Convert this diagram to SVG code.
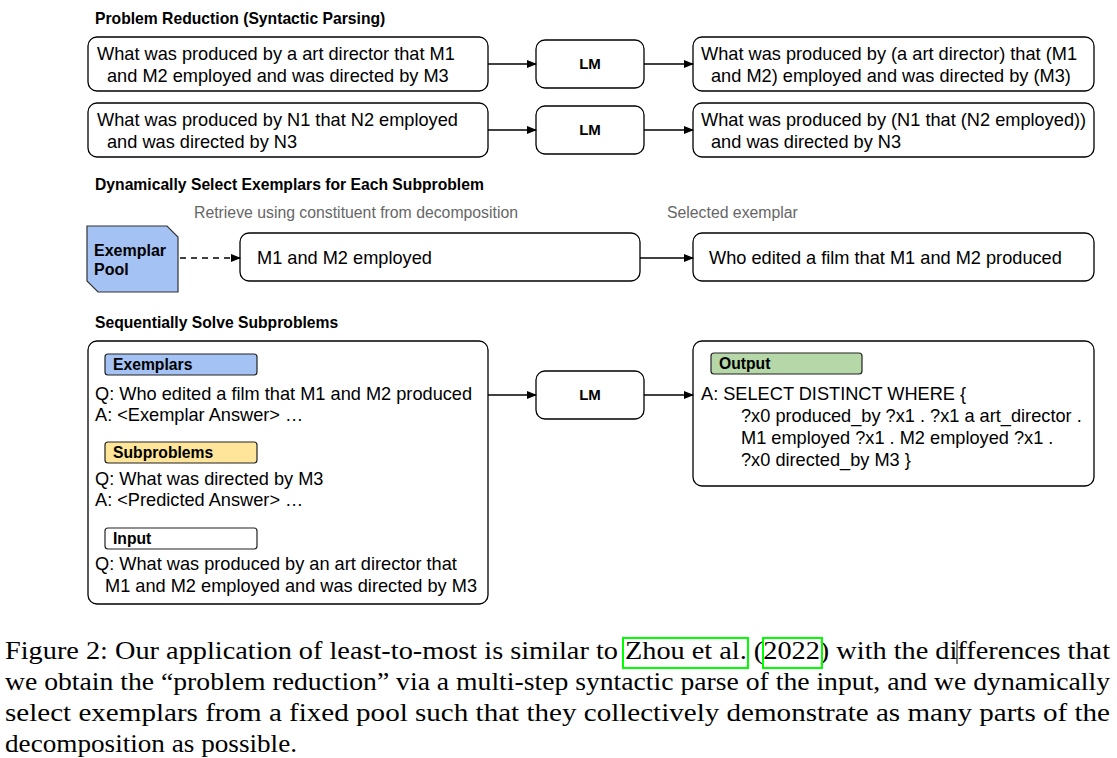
<svg xmlns="http://www.w3.org/2000/svg" width="1117" height="758" viewBox="0 0 1117 758">
<defs>
<marker id="ah" markerWidth="10" markerHeight="8" refX="9" refY="4" orient="auto" markerUnits="userSpaceOnUse">
<path d="M0,0 L10,4 L0,8 Z" fill="#000"/>
</marker>
<style>
.box{fill:#fff;stroke:#000;stroke-width:1.3}
.t{font-family:"Liberation Sans",Arial,sans-serif;font-size:18.2px;fill:#000}
.b{font-family:"Liberation Sans",Arial,sans-serif;font-size:15.7px;font-weight:bold;fill:#000}
.g{font-family:"Liberation Sans",Arial,sans-serif;font-size:15.8px;fill:#666}
.lm{font-family:"Liberation Sans",Arial,sans-serif;font-size:15px;font-weight:bold;fill:#000;text-anchor:middle}
.lab{stroke:#222;stroke-width:1.2}
.c{font-family:"Liberation Serif","Times New Roman",serif;font-size:26px;fill:#000}
.arr{stroke:#000;stroke-width:1.5;fill:none;marker-end:url(#ah)}
</style>
</defs>
<rect width="1117" height="758" fill="#fff"/>

<text class="b" x="95" y="24">Problem Reduction (Syntactic Parsing)</text>
<text class="b" x="95" y="190">Dynamically Select Exemplars for Each Subproblem</text>
<text class="b" x="95" y="328">Sequentially Solve Subproblems</text>

<g id="q1">
<rect class="box" x="88" y="37" width="400" height="54" rx="9"/>
<text class="t" x="97" y="60">What was produced by a art director that M1</text>
<text class="t" x="107" y="82">and M2 employed and was directed by M3</text>
</g>
<g id="lm1">
<rect class="box" x="536" y="40" width="108" height="48" rx="9"/>
<text class="lm" x="590" y="69">LM</text>
</g>
<g id="p1">
<rect class="box" x="693" y="37" width="401" height="54" rx="9"/>
<text class="t" x="701" y="60">What was produced by (a art director) that (M1</text>
<text class="t" x="711" y="82">and M2) employed and was directed by (M3)</text>
</g>

<g id="q2">
<rect class="box" x="88" y="103" width="400" height="54" rx="9"/>
<text class="t" x="97" y="126">What was produced by N1 that N2 employed</text>
<text class="t" x="107" y="148">and was directed by N3</text>
</g>
<g id="lm2">
<rect class="box" x="536" y="106" width="108" height="48" rx="9"/>
<text class="lm" x="590" y="135">LM</text>
</g>
<g id="p2">
<rect class="box" x="693" y="103" width="401" height="54" rx="9"/>
<text class="t" x="701" y="126">What was produced by (N1 that (N2 employed))</text>
<text class="t" x="711" y="148">and was directed by N3</text>
</g>

<text class="g" x="194" y="218">Retrieve using constituent from decomposition</text>
<text class="g" x="667" y="218">Selected exemplar</text>

<g id="pool">
<path d="M87,226 L167,226 L178,237 L178,292 L98,292 L87,281 Z" fill="#a4c2f4" stroke="#333" stroke-width="1.2"/>
<text class="b" x="94" y="256" style="font-size:16px">Exemplar</text>
<text class="b" x="94" y="275" style="font-size:16px">Pool</text>
</g>
<g id="constituent">
<rect class="box" x="240" y="233" width="400" height="48" rx="9"/>
<text class="t" x="257" y="264">M1 and M2 employed</text>
</g>
<g id="selected">
<rect class="box" x="693" y="233" width="401" height="48" rx="9"/>
<text class="t" x="709" y="264">Who edited a film that M1 and M2 produced</text>
</g>

<g id="prompt">
<rect class="box" x="88" y="341" width="400" height="263" rx="9"/>
<rect class="lab" x="105" y="354" width="152" height="21" rx="3" fill="#a4c2f4"/>
<text class="b" x="113" y="370">Exemplars</text>
<text class="t" x="95" y="400">Q: Who edited a film that M1 and M2 produced</text>
<text class="t" x="95" y="421">A: &lt;Exemplar Answer&gt; …</text>
<rect class="lab" x="105" y="442" width="152" height="21" rx="3" fill="#ffe599"/>
<text class="b" x="113" y="458">Subproblems</text>
<text class="t" x="95" y="485">Q: What was directed by M3</text>
<text class="t" x="95" y="506">A: &lt;Predicted Answer&gt; …</text>
<rect class="lab" x="105" y="528" width="152" height="21" rx="3" fill="#fff"/>
<text class="b" x="113" y="544">Input</text>
<text class="t" x="95" y="570">Q: What was produced by an art director that</text>
<text class="t" x="105" y="592">M1 and M2 employed and was directed by M3</text>
</g>
<g id="lm3">
<rect class="box" x="536" y="371" width="108" height="48" rx="9"/>
<text class="lm" x="590" y="400">LM</text>
</g>
<g id="output">
<rect class="box" x="693" y="341" width="401" height="145" rx="9"/>
<rect class="lab" x="711" y="353" width="151" height="21" rx="3" fill="#b6d7a8"/>
<text class="b" x="719" y="369">Output</text>
<text class="t" x="701" y="400">A: SELECT DISTINCT WHERE {</text>
<text class="t" x="741" y="422">?x0 produced_by ?x1 . ?x1 a art_director .</text>
<text class="t" x="741" y="444">M1 employed ?x1 . M2 employed ?x1 .</text>
<text class="t" x="741" y="466">?x0 directed_by M3 }</text>
</g>

<g id="connectors">
<line class="arr" x1="488" y1="64" x2="536" y2="64"/>
<line class="arr" x1="644" y1="64" x2="693" y2="64"/>
<line class="arr" x1="488" y1="130" x2="536" y2="130"/>
<line class="arr" x1="644" y1="130" x2="693" y2="130"/>
<line class="arr" x1="180" y1="258" x2="240" y2="258" stroke-dasharray="6,5"/>
<line class="arr" x1="640" y1="258" x2="693" y2="258"/>
<line class="arr" x1="488" y1="395" x2="536" y2="395"/>
<line class="arr" x1="644" y1="395" x2="693" y2="395"/>
</g>

<g id="caption">
<text class="c" x="5" y="659" textLength="1105" lengthAdjust="spacingAndGlyphs">Figure 2: Our application of least-to-most is similar to Zhou et al. (2022) with the differences that</text>
<text class="c" x="5" y="690" textLength="1105" lengthAdjust="spacingAndGlyphs">we obtain the “problem reduction” via a multi-step syntactic parse of the input, and we dynamically</text>
<text class="c" x="5" y="721" textLength="1105" lengthAdjust="spacingAndGlyphs">select exemplars from a fixed pool such that they collectively demonstrate as many parts of the</text>
<text class="c" x="5" y="752" textLength="292" lengthAdjust="spacingAndGlyphs">decomposition as possible.</text>
<rect x="623" y="638" width="125" height="30" fill="none" stroke="#00ff00" stroke-width="2"/>
<rect x="763" y="638" width="59" height="30" fill="none" stroke="#00ff00" stroke-width="2"/>
<line x1="957" y1="640" x2="957" y2="664" stroke="#000" stroke-width="1"/>
</g>
</svg>
